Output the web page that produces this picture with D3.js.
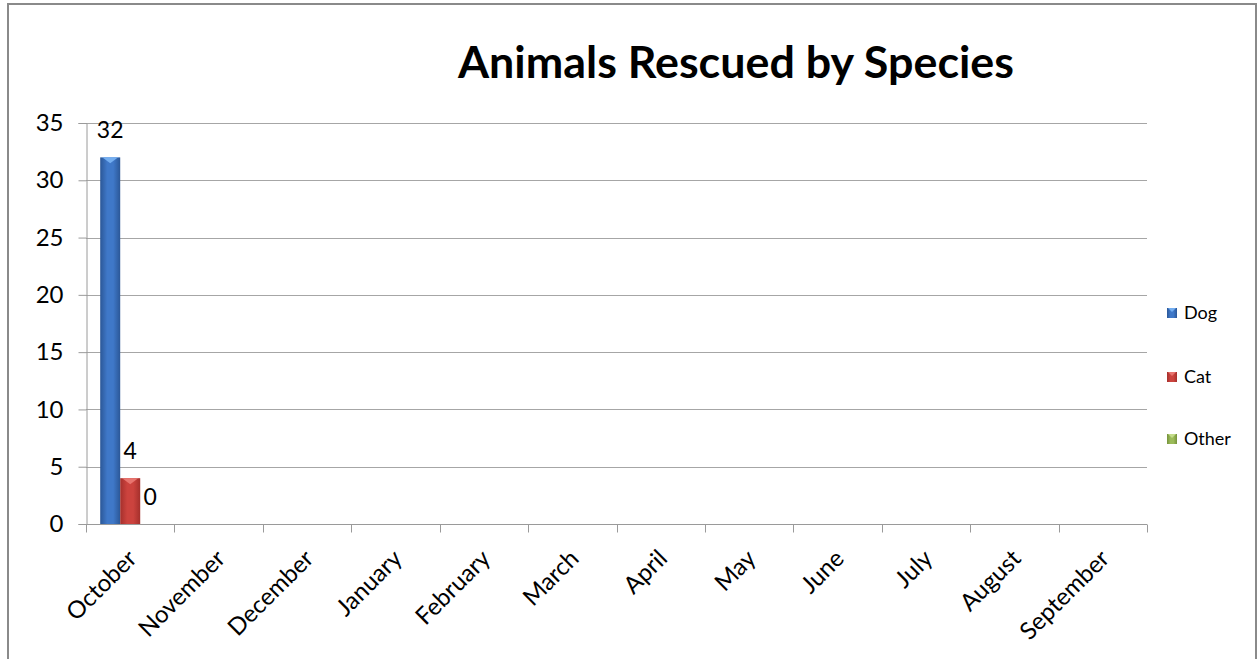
<!DOCTYPE html>
<html><head><meta charset="utf-8">
<script src="https://cdn.jsdelivr.net/npm/d3@7/dist/d3.min.js"></script>
<style>
html,body{margin:0;padding:0;background:#fff;}
svg{display:block;}
text{font-family:Lato,"Open Sans",sans-serif;fill:#000;}
</style></head>
<body>
<svg id="c" width="1258" height="659"></svg>
<script>
const title = "Animals Rescued by Species";
const months = ["October","November","December","January","February","March","April","May","June","July","August","September"];
const series = ["Dog","Cat","Other"];
const dogValues = [32];
const catValues = [4];
const otherValues = [0];
const yTicks = [0,5,10,15,20,25,30,35];

const colors = {
  Dog:  {mid:"#3f78c8", edge:"#2b5797", top:"#74aef0"},
  Cat:  {mid:"#cc433e", edge:"#a5302c", top:"#e8756f"},
  Other:{mid:"#9bbb59", edge:"#76923c", top:"#c3dc8a"}
};
const seriesValues = {Dog:dogValues, Cat:catValues, Other:otherValues};

const svg = d3.select("#c");
const L=86, R=1147, T=123, B=524;

// frame
svg.append("rect").attr("x",8).attr("y",4).attr("width",1248).attr("height",700)
  .attr("fill","#fff").attr("stroke","#8a8a8a").attr("stroke-width",2);

const y = d3.scaleLinear().domain([0,35]).range([B,T]);
const x = d3.scaleBand().domain(months).range([L,R]).paddingInner(0).paddingOuter(0);
const xs = d3.scaleBand().domain(series).range([0,x.bandwidth()]).paddingInner(0).paddingOuter(0.71);

// gradients
const defs = svg.append("defs");
series.forEach(s=>{
  const g = defs.append("linearGradient").attr("id","g"+s).attr("x1",0).attr("x2",1).attr("y1",0).attr("y2",0);
  g.append("stop").attr("offset","0%").attr("stop-color",colors[s].edge);
  g.append("stop").attr("offset","35%").attr("stop-color",colors[s].mid);
  g.append("stop").attr("offset","65%").attr("stop-color",colors[s].mid);
  g.append("stop").attr("offset","100%").attr("stop-color",colors[s].edge);
});

// gridlines
svg.append("g").selectAll("line").data(yTicks.filter(d=>d>0)).join("line")
  .attr("x1",L).attr("x2",R).attr("y1",d=>Math.round(y(d))+0.5).attr("y2",d=>Math.round(y(d))+0.5)
  .attr("stroke","#a6a6a6").attr("stroke-width",1);

// y axis
const yAxis = svg.append("g").attr("transform",`translate(${L+0.5},0)`)
  .call(d3.axisLeft(y).tickValues(yTicks).tickSize(8).tickPadding(15));
yAxis.select(".domain").attr("stroke","#9a9a9a");
yAxis.selectAll(".tick line").attr("stroke","#9a9a9a");
yAxis.selectAll(".tick text").attr("font-size",24).attr("font-family","Lato, 'Open Sans', sans-serif").attr("fill","#000");

// x axis
const xAxisG = svg.append("g").attr("transform",`translate(0,${B+0.5})`);
xAxisG.append("line").attr("x1",L).attr("x2",R).attr("stroke","#9a9a9a");
const bounds = months.map(m=>x(m)).concat([x(months[months.length-1])+x.bandwidth()]);
xAxisG.selectAll("line.tk").data(bounds).join("line").attr("class","tk")
  .attr("x1",d=>Math.round(d)+0.5).attr("x2",d=>Math.round(d)+0.5).attr("y1",0).attr("y2",8)
  .attr("stroke","#9a9a9a");
svg.append("g").selectAll("text").data(months).join("text")
  .attr("transform",d=>`translate(${x(d)+x.bandwidth()/2+8},${B+36}) rotate(-45)`)
  .attr("text-anchor","end").attr("font-size",24).text(d=>d);

// bars
const barData = [];
months.forEach((m,i)=>series.forEach(s=>{
  const v = seriesValues[s][i];
  if(v!==undefined) barData.push({m,s,v});
}));
const bars = svg.append("g");
barData.forEach(d=>{
  const bx = x(d.m)+xs(d.s), bw = xs.bandwidth(), top = y(d.v);
  if(d.v>0){
    bars.append("rect").attr("x",bx).attr("y",top).attr("width",bw).attr("height",B-top)
      .attr("fill",`url(#g${d.s})`);
    bars.append("path").attr("d",`M${bx+2},${top} L${bx+bw-2},${top} L${bx+bw/2},${top+6} Z`)
      .attr("fill",colors[d.s].top);
  }
  bars.append("text").attr("x",bx+bw/2).attr("y",top-19).attr("text-anchor","middle")
    .attr("font-size",23).text(d.v);
});

// title
const t = svg.append("text").attr("x",736).attr("y",78).attr("text-anchor","middle")
  .attr("font-weight","bold").attr("font-size",40).text(title);
const tl = t.node().getComputedTextLength();
t.attr("font-size",40*556/tl);

// legend
const legY = {Dog:313, Cat:377, Other:439};
const lg = svg.append("g");
series.forEach(s=>{
  lg.append("rect").attr("x",1167).attr("y",legY[s]-5).attr("width",10).attr("height",10)
    .attr("fill",`url(#g${s})`);
  lg.append("path").attr("d",`M1168,${legY[s]-5} L1176,${legY[s]-5} L1172,${legY[s]-1} Z`).attr("fill",colors[s].top);
  lg.append("text").attr("x",1184).attr("y",legY[s]).attr("dy","0.35em").attr("font-size",18).text(s);
});
</script>
</body></html>
